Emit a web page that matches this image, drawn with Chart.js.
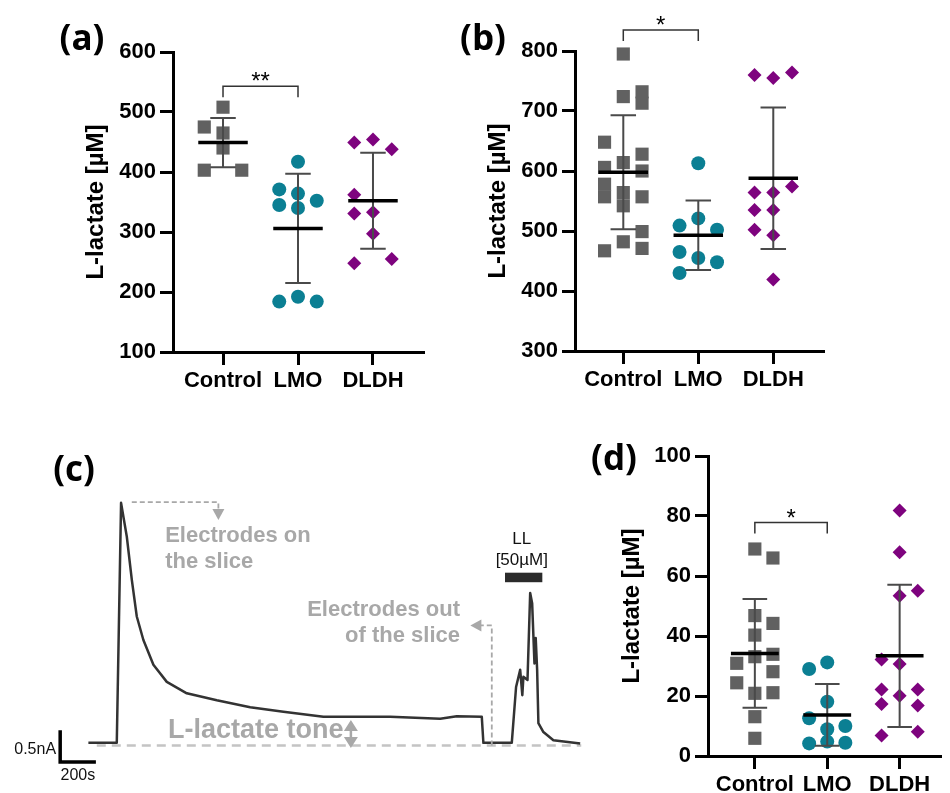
<!DOCTYPE html>
<html>
<head>
<meta charset="utf-8">
<script src="https://cdn.jsdelivr.net/npm/chart.js@4"></script>
<style>
  html, body { margin: 0; padding: 0; background: #fff; }
  body { width: 950px; height: 793px; position: relative; overflow: hidden; }
  canvas { position: absolute; }
</style>
</head>
<body>
<canvas id="chartC" width="600" height="353" style="left:0;top:440px"></canvas>
<canvas id="chartA" width="440" height="420" style="left:0;top:0"></canvas>
<canvas id="chartB" width="420" height="420" style="left:440px;top:0"></canvas>
<canvas id="chartD" width="365" height="363" style="left:585px;top:430px"></canvas>
<script>
const groups = ['Control', 'LMO', 'DLDH'];

// (a) L-lactate [µM]; *Col = column inside the swarm (-1 left, 0 centre, 1 right)
const aControl = [508, 475, 465, 440, 403, 403];
const aControlCol = [0, -1, 0, 0, -1, 1];
const aLMO = [417, 371, 364, 352, 345, 340, 184, 192, 184];
const aLMOCol = [0, -1, 0, 1, -1, 0, -1, 0, 1];
const aDLDH = [449, 454, 438, 362, 331, 333, 297, 248, 255];
const aDLDHCol = [-1, 0, 1, -1, -1, 0, 0, -1, 1];
const aMean = [449, 306, 352];
const aSD = [41, 91, 80];
const aSigLevel = 543;
const aSigMark = '**';

// (b)
const bControl = [795, 724, 732, 713, 648, 628, 614, 606, 600, 578, 564, 557, 557, 542, 499, 482, 467, 471];
const bControlCol = [0, 0, 1, 1, -1, 1, 0, -1, 1, -1, 0, -1, 1, 0, 1, 0, -1, 1];
const bLMO = [613, 521, 509, 502, 465, 455, 448, 430];
const bLMOCol = [0, 0, -1, 1, -1, 0, 1, -1];
const bDLDH = [760, 755, 764, 574, 564, 564, 535, 535, 502, 493, 419];
const bDLDHCol = [-1, 0, 1, 1, -1, 0, -1, 0, -1, 0, 0];
const bMean = [598, 493, 588];
const bSD = [95, 58, 118];
const bSigLevel = 835;
const bSigMark = '*';

// (d)
const dControl = [69, 66, 46.8, 44.2, 40.3, 33.1, 33.9, 30.9, 28.1, 24.4, 20.9, 21.1, 13.1, 5.9];
const dControlCol = [0, 1, 0, 1, 0, 0, 1, -1, 1, -1, 0, 1, 0, 0];
const dLMO = [29, 31.2, 18.1, 12.6, 8.9, 10, 4.2, 4.8, 4.4];
const dLMOCol = [-1, 0, 0, -1, 0, 1, -1, 0, 1];
const dDLDH = [81.8, 67.9, 53.4, 55.1, 32.2, 30.7, 22.2, 22.2, 20.1, 17.3, 16.8, 6.8, 8.1];
const dDLDHCol = [0, 0, 0, 1, -1, 0, -1, 1, 0, -1, 1, -1, 1];
const dMean = [34.2, 13.7, 33.4];
const dSD = [18.1, 10.3, 23.7];
const dSigLevel = 77.8;
const dSigMark = '*';

// (c) amperometric trace: time [s], current [nA]
const traceTime = [0, 159, 183, 215, 243, 271, 308, 364, 439, 551, 719, 906, 1092, 1316, 1690, 1970, 2063, 2203,
  2212, 2371, 2395, 2418, 2430, 2436, 2459, 2474, 2485, 2498, 2505, 2513, 2520, 2548, 2604, 2754];
const traceCurrent = [0, 0, 3.78, 3.25, 2.57, 1.99, 1.62, 1.23, 0.96, 0.78, 0.67, 0.56, 0.49, 0.41, 0.41, 0.38, 0.42, 0.41,
  0, 0, 0.88, 1.15, 0.75, 1.04, 0.99, 2.36, 2.2, 1.25, 1.65, 1.15, 0.31, 0.17, 0.04, -0.01];
const toneTime = [47, 2760];
const toneLevel = [-0.04, -0.04];

const FONT = "'Liberation Sans', Arial, sans-serif";
const markStyle = ['rect', 'circle', 'rectRot'];
const markSize = [9.3, 7, 7];
const markColor = ['#616161', '#0b7f93', '#7e037e'];

function panelLabel(ctx, text, x, y) {
  ctx.save();
  ctx.font = "bold 35px 'Open Sans', sans-serif";
  ctx.fillStyle = '#000';
  ctx.textAlign = 'center';
  ctx.textBaseline = 'middle';
  ctx.fillText(text, x, y);
  ctx.restore();
}

const meanSd = {
  id: 'meanSd',
  afterDatasetsDraw(chart, args, opts) {
    const { ctx, scales: { x, y } } = chart;
    ctx.save();
    opts.means.forEach((m, g) => {
      const c = g + 1;
      const lo = y.getPixelForValue(m - opts.sds[g]);
      const hi = y.getPixelForValue(m + opts.sds[g]);
      ctx.strokeStyle = '#4a4a4a';
      ctx.lineWidth = 2;
      ctx.beginPath();
      ctx.moveTo(x.getPixelForValue(c), lo);
      ctx.lineTo(x.getPixelForValue(c), hi);
      ctx.moveTo(x.getPixelForValue(c - 0.17), lo);
      ctx.lineTo(x.getPixelForValue(c + 0.17), lo);
      ctx.moveTo(x.getPixelForValue(c - 0.17), hi);
      ctx.lineTo(x.getPixelForValue(c + 0.17), hi);
      ctx.stroke();
      const my = y.getPixelForValue(m);
      ctx.strokeStyle = '#000';
      ctx.lineWidth = 3.5;
      ctx.beginPath();
      ctx.moveTo(x.getPixelForValue(c - 0.33), my);
      ctx.lineTo(x.getPixelForValue(c + 0.33), my);
      ctx.stroke();
    });
    // significance bracket Control vs LMO
    const by = y.getPixelForValue(opts.sigLevel);
    const x1 = x.getPixelForValue(1), x2 = x.getPixelForValue(2);
    ctx.strokeStyle = '#333';
    ctx.lineWidth = 1.5;
    ctx.beginPath();
    ctx.moveTo(x1, by + 11);
    ctx.lineTo(x1, by);
    ctx.lineTo(x2, by);
    ctx.lineTo(x2, by + 11);
    ctx.stroke();
    ctx.fillStyle = '#000';
    ctx.font = '24px ' + FONT;
    ctx.textAlign = 'center';
    ctx.textBaseline = 'alphabetic';
    ctx.fillText(opts.sigMark, (x1 + x2) / 2, by - 11 + 14);
    ctx.restore();
    panelLabel(ctx, opts.label, opts.labelX, opts.labelY);
  }
};

function dotPlot(id, p) {
  const datasets = p.values.map((vals, g) => ({
    data: vals.map((v, i) => ({ x: g + 1 + p.cols[g][i] * 0.25, y: v })),
    pointStyle: markStyle[g],
    pointRadius: markSize[g],
    pointBackgroundColor: markColor[g],
    pointBorderWidth: 0,
    showLine: false,
    clip: false
  }));
  const tickFont = { family: FONT, size: 22, weight: 'bold' };
  return new Chart(document.getElementById(id), {
    type: 'scatter',
    data: { datasets },
    options: {
      responsive: false,
      animation: false,
      layout: { padding: { left: 0, top: p.top, right: p.right, bottom: 0 } },
      plugins: {
        legend: { display: false },
        tooltip: { enabled: false },
        meanSd: { means: p.means, sds: p.sds, sigLevel: p.sigLevel, sigMark: p.sigMark,
                  label: p.label, labelX: p.labelX, labelY: p.labelY }
      },
      scales: {
        x: {
          type: 'linear', min: p.xMin, max: p.xMax,
          afterBuildTicks: ax => { ax.ticks = groups.map((_, i) => ({ value: i + 1 })); },
          afterFit: ax => { ax.height = p.xHeight; },
          ticks: { callback: v => groups[v - 1], font: tickFont, color: '#000', padding: 3,
                   autoSkip: false, maxRotation: 0 },
          grid: { drawOnChartArea: false, tickLength: 13, lineWidth: 3, color: '#000' },
          border: { color: '#000', width: 3 }
        },
        y: {
          min: p.yMin, max: p.yMax,
          afterFit: ax => { ax.width = p.yWidth; },
          ticks: { stepSize: p.yStep, font: tickFont, color: '#000', padding: 4 },
          grid: { drawOnChartArea: false, tickLength: 13, lineWidth: 3, color: '#000' },
          border: { color: '#000', width: 3 },
          title: { display: true, text: 'L-lactate [µM]', color: '#000',
                   font: { family: FONT, size: 24, weight: 'bold' },
                   padding: { top: p.titlePad, bottom: 0 } }
        }
      }
    },
    plugins: [meanSd]
  });
}

dotPlot('chartA', {
  values: [aControl, aLMO, aDLDH], cols: [aControlCol, aLMOCol, aDLDHCol],
  means: aMean, sds: aSD, sigLevel: aSigLevel, sigMark: aSigMark,
  yMin: 100, yMax: 600, yStep: 100, xMin: 0.333, xMax: 3.667,
  top: 52, right: 17, xHeight: 68, yWidth: 173, titlePad: 82.3,
  label: '(a)', labelX: 82, labelY: 40
});

dotPlot('chartB', {
  values: [bControl, bLMO, bDLDH], cols: [bControlCol, bLMOCol, bDLDHCol],
  means: bMean, sds: bSD, sigLevel: bSigLevel, sigMark: bSigMark,
  yMin: 300, yMax: 800, yStep: 100, xMin: 0.356, xMax: 3.663,
  top: 51, right: 37, xHeight: 69, yWidth: 135, titlePad: 43.6,
  label: '(b)', labelX: 43, labelY: 40
});

dotPlot('chartD', {
  values: [dControl, dLMO, dDLDH], cols: [dControlCol, dLMOCol, dDLDHCol],
  means: dMean, sds: dSD, sigLevel: dSigLevel, sigMark: dSigMark,
  yMin: 0, yMax: 100, yStep: 20, xMin: 0.353, xMax: 3.567,
  top: 26, right: 0, xHeight: 37, yWidth: 123, titlePad: 32.6,
  label: '(d)', labelX: 29, labelY: 30
});

// (c) trace with annotations
const traceNotes = {
  id: 'traceNotes',
  afterDatasetsDraw(chart) {
    const { ctx, scales: { x, y } } = chart;
    const px = t => x.getPixelForValue(t);
    const py = v => y.getPixelForValue(v);
    const grey = '#a8a8a8';
    ctx.save();

    // electrodes on the slice: dashed pointer from the peak
    ctx.strokeStyle = grey;
    ctx.fillStyle = grey;
    ctx.lineWidth = 1.8;
    ctx.setLineDash([5, 3]);
    ctx.beginPath();
    ctx.moveTo(px(243), py(3.79));
    ctx.lineTo(px(728), py(3.79));
    ctx.lineTo(px(728), py(3.51) - 11);
    ctx.stroke();
    // electrodes out of the slice: dashed pointer from the baseline
    ctx.beginPath();
    ctx.moveTo(px(2259), py(-0.04));
    ctx.lineTo(px(2259), py(1.85));
    ctx.lineTo(px(2139) + 10, py(1.85));
    ctx.stroke();
    ctx.setLineDash([]);
    let tx = px(728), ty = py(3.51);
    ctx.beginPath();
    ctx.moveTo(tx, ty); ctx.lineTo(tx - 6, ty - 11); ctx.lineTo(tx + 6, ty - 11); ctx.closePath();
    ctx.fill();
    tx = px(2139); ty = py(1.85);
    ctx.beginPath();
    ctx.moveTo(tx, ty); ctx.lineTo(tx + 11, ty - 6); ctx.lineTo(tx + 11, ty + 6); ctx.closePath();
    ctx.fill();

    // tone double arrow
    const ax = px(1470), aTop = py(0.36), aBot = py(-0.08);
    ctx.lineWidth = 2.5;
    ctx.beginPath();
    ctx.moveTo(ax, aTop + 8); ctx.lineTo(ax, aBot - 8);
    ctx.stroke();
    ctx.beginPath();
    ctx.moveTo(ax, aTop); ctx.lineTo(ax - 7, aTop + 11); ctx.lineTo(ax + 7, aTop + 11); ctx.closePath();
    ctx.moveTo(ax, aBot); ctx.lineTo(ax - 7, aBot - 11); ctx.lineTo(ax + 7, aBot - 11); ctx.closePath();
    ctx.fill();

    // grey labels
    ctx.textBaseline = 'middle';
    ctx.font = 'bold 22px ' + FONT;
    ctx.textAlign = 'left';
    ctx.fillText('Electrodes on', px(430), py(3.26));
    ctx.fillText('the slice', px(430), py(2.85));
    ctx.textAlign = 'right';
    ctx.fillText('Electrodes out', px(2081), py(2.10));
    ctx.fillText('of the slice', px(2081), py(1.69));
    ctx.font = 'bold 27px ' + FONT;
    ctx.textAlign = 'left';
    ctx.fillText('L-lactate tone', px(446), py(0.2));

    // L-lactate application bar
    ctx.fillStyle = '#2b2b2b';
    ctx.fillRect(px(2333), py(2.68), px(2542) - px(2333), py(2.53) - py(2.68));
    ctx.fillStyle = '#111';
    ctx.font = '17px ' + FONT;
    ctx.textAlign = 'center';
    ctx.fillText('LL', px(2427), py(3.2));
    ctx.fillText('[50µM]', px(2427), py(2.87));

    // scale bar 0.5 nA / 200 s
    ctx.strokeStyle = '#000';
    ctx.lineWidth = 3.5;
    ctx.lineCap = 'butt';
    ctx.beginPath();
    ctx.moveTo(px(-158), py(0.2));
    ctx.lineTo(px(-158), py(-0.3));
    ctx.lineTo(px(42), py(-0.3));
    ctx.stroke();
    ctx.font = '16px ' + FONT;
    ctx.textAlign = 'right';
    ctx.fillText('0.5nA', px(-181), py(-0.1));
    ctx.textAlign = 'center';
    ctx.fillText('200s', px(-59), py(-0.51));
    ctx.restore();

    panelLabel(ctx, '(c)', 74, 31);
  }
};

new Chart(document.getElementById('chartC'), {
  type: 'line',
  data: {
    datasets: [
      {
        data: traceTime.map((t, i) => ({ x: t, y: traceCurrent[i] })),
        borderColor: '#333',
        borderWidth: 2.5,
        pointRadius: 0,
        tension: 0,
        borderJoinStyle: 'round'
      },
      {
        data: toneTime.map((t, i) => ({ x: t, y: toneLevel[i] })),
        borderColor: '#c4c4c4',
        borderWidth: 2.5,
        borderDash: [9, 6],
        pointRadius: 0
      }
    ]
  },
  options: {
    responsive: false,
    animation: false,
    layout: { padding: 0 },
    plugins: { legend: { display: false }, tooltip: { enabled: false } },
    scales: {
      x: { type: 'linear', display: false, min: -495, max: 2865 },
      y: { display: false, min: -0.79, max: 4.77 }
    }
  },
  plugins: [traceNotes]
});
</script>
</body>
</html>
